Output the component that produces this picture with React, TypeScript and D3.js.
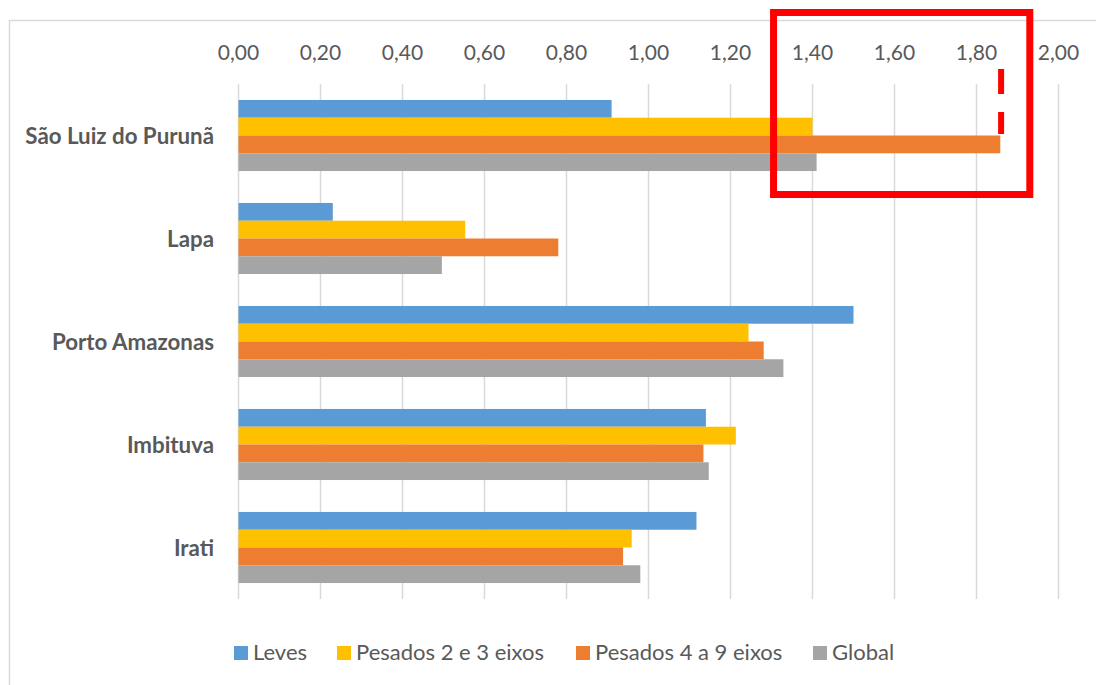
import * as d3 from 'd3';

const categories = ['São Luiz do Purunã', 'Lapa', 'Porto Amazonas', 'Imbituva', 'Irati'];
const seriesNames = ['Leves', 'Pesados 2 e 3 eixos', 'Pesados 4 a 9 eixos', 'Global'];
const leves = [0.91, 0.23, 1.5, 1.14, 1.117];
const pesados23 = [1.4, 0.553, 1.244, 1.213, 0.959];
const pesados49 = [1.858, 0.78, 1.281, 1.134, 0.938];
const global = [1.41, 0.496, 1.329, 1.147, 0.98];
const xTicks = [0, 0.2, 0.4, 0.6, 0.8, 1.0, 1.2, 1.4, 1.6, 1.8, 2.0];

const colors = ['#5B9BD5', '#FFC000', '#ED7D31', '#A5A5A5'];
const seriesValues = [leves, pesados23, pesados49, global];

const W = 1096;
const H = 685;
const FONT = 'Lato, "Open Sans", sans-serif';
const TEXT = '#595959';
const GRID = '#D9D9D9';

// legend item left edges (layout only)
const legendX = [234, 337, 576, 813];

export default function App() {
  const x = d3.scaleLinear().domain([0, 2]).range([238.5, 1058.5]);
  const y = d3.scaleBand().domain(categories).range([84, 599]).paddingInner(0.31).paddingOuter(0.155);
  const sub = d3.scaleBand().domain(seriesNames).range([0, y.bandwidth()]);
  const fmt = (v: number) => d3.format('.2f')(v).replace('.', ',');

  return (
    <svg width={W} height={H} style={{ position: 'absolute', left: 0, top: 0, background: '#fff' }}>
      {/* chart frame */}
      <rect x={9.5} y={20.5} width={W + 20} height={H + 20} fill="#fff" stroke={GRID} strokeWidth={1.5} />

      {/* gridlines */}
      {xTicks.map(t => (
        <line key={t} x1={x(t)} x2={x(t)} y1={84} y2={599} stroke={GRID} strokeWidth={1.5} />
      ))}

      {/* tick labels */}
      {xTicks.map(t => (
        <text key={t} x={x(t)} y={60} textAnchor="middle" fontFamily={FONT} fontSize={21} fill={TEXT}>
          {fmt(t)}
        </text>
      ))}

      {/* bars */}
      {seriesNames.map((s, si) =>
        categories.map((c, ci) => (
          <rect
            key={s + c}
            x={x(0)}
            y={(y(c) ?? 0) + (sub(s) ?? 0)}
            width={x(seriesValues[si][ci]) - x(0)}
            height={sub.bandwidth()}
            fill={colors[si]}
          />
        ))
      )}

      {/* category labels */}
      {categories.map(c => (
        <text
          key={c}
          x={214}
          y={(y(c) ?? 0) + y.bandwidth() / 2}
          dy="0.36em"
          textAnchor="end"
          fontFamily={FONT}
          fontWeight="bold"
          fontSize={22.3}
          fill={TEXT}
        >
          {c}
        </text>
      ))}

      {/* legend */}
      {seriesNames.map((s, i) => (
        <g key={s} transform={`translate(${legendX[i]},646)`}>
          <rect x={0} y={0} width={14} height={14} fill={colors[i]} />
          <text x={19} y={14} fontFamily={FONT} fontSize={22} fill={TEXT}>
            {s}
          </text>
        </g>
      ))}

      {/* annotation: red box and dashed marker */}
      <rect
        x={x(1.305)}
        y={12.5}
        width={x(1.93) - x(1.305)}
        height={182}
        fill="none"
        stroke="#FF0000"
        strokeWidth={7}
      />
      <line
        x1={x(1.86)}
        x2={x(1.86)}
        y1={69}
        y2={134}
        stroke="#FF0000"
        strokeWidth={6}
        strokeDasharray="25 18"
      />
    </svg>
  );
}
